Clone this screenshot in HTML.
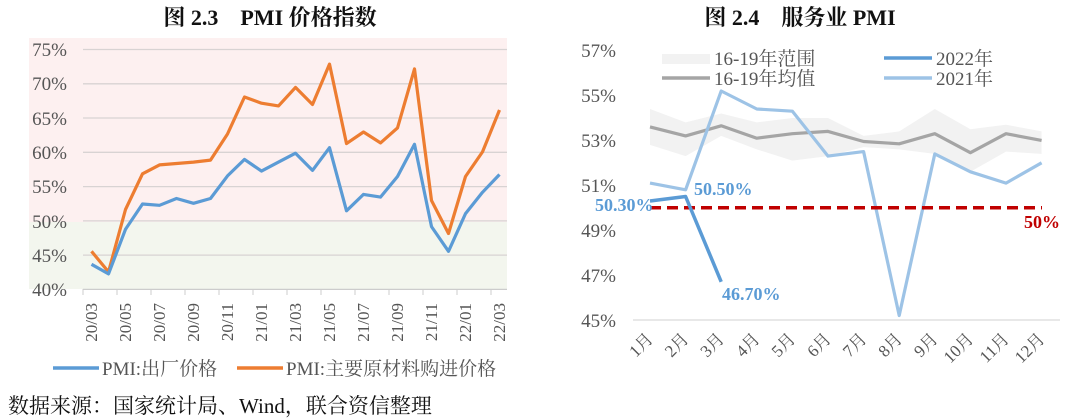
<!DOCTYPE html>
<html><head><meta charset="utf-8"><style>
html,body{margin:0;padding:0;background:#fff;}
svg{display:block;}
text{font-family:"Liberation Serif","Noto Serif CJK SC",serif;}
</style></head><body>
<svg width="1080" height="420" xmlns="http://www.w3.org/2000/svg">
<text x="270" y="25" text-anchor="middle" font-size="22" font-weight="bold" fill="#111">图 2.3　PMI 价格指数</text>
<text x="800" y="25" text-anchor="middle" font-size="22" font-weight="bold" fill="#111">图 2.4　服务业 PMI</text>

<rect x="29" y="38" width="478" height="184" fill="#fdf0f0"/>
<rect x="29" y="222" width="478" height="67" fill="#f3f6ee"/>
<g stroke="#d8d3d3" stroke-width="1.3">
<line x1="83" y1="49.5" x2="507" y2="49.5"/>
<line x1="83" y1="83.8" x2="507" y2="83.8"/>
<line x1="83" y1="118" x2="507" y2="118"/>
<line x1="83" y1="152.3" x2="507" y2="152.3"/>
<line x1="83" y1="186.6" x2="507" y2="186.6"/>
<line x1="83" y1="220.9" x2="507" y2="220.9"/>
<line x1="83" y1="255.1" x2="507" y2="255.1"/>
<line x1="83" y1="289.4" x2="507" y2="289.4" stroke="#ccc"/>
</g>
<g stroke="#ccc" stroke-width="1">
<line x1="83" y1="289" x2="83" y2="295"/><line x1="117" y1="289" x2="117" y2="295"/><line x1="151" y1="289" x2="151" y2="295"/><line x1="185" y1="289" x2="185" y2="295"/><line x1="219" y1="289" x2="219" y2="295"/><line x1="253" y1="289" x2="253" y2="295"/><line x1="287" y1="289" x2="287" y2="295"/><line x1="321" y1="289" x2="321" y2="295"/><line x1="355" y1="289" x2="355" y2="295"/><line x1="389" y1="289" x2="389" y2="295"/><line x1="423" y1="289" x2="423" y2="295"/><line x1="457" y1="289" x2="457" y2="295"/><line x1="491" y1="289" x2="491" y2="295"/>
</g>
<g font-size="19" fill="#555" text-anchor="end">
<text x="67" y="56">75%</text><text x="67" y="90">70%</text><text x="67" y="125">65%</text><text x="67" y="159">60%</text><text x="67" y="193">55%</text><text x="67" y="228">50%</text><text x="67" y="262">45%</text><text x="67" y="296">40%</text>
</g>
<g font-size="17" fill="#555" text-anchor="end">
<text transform="translate(97,303) rotate(-90)">20/03</text>
<text transform="translate(131,303) rotate(-90)">20/05</text>
<text transform="translate(165,303) rotate(-90)">20/07</text>
<text transform="translate(199,303) rotate(-90)">20/09</text>
<text transform="translate(233,303) rotate(-90)">20/11</text>
<text transform="translate(267,303) rotate(-90)">21/01</text>
<text transform="translate(301,303) rotate(-90)">21/03</text>
<text transform="translate(335,303) rotate(-90)">21/05</text>
<text transform="translate(369,303) rotate(-90)">21/07</text>
<text transform="translate(403,303) rotate(-90)">21/09</text>
<text transform="translate(437,303) rotate(-90)">21/11</text>
<text transform="translate(471,303) rotate(-90)">22/01</text>
<text transform="translate(505,303) rotate(-90)">22/03</text>
</g>
<polyline fill="none" stroke="#ed7d31" stroke-width="3.2" stroke-linejoin="round" points="91.5,251.3 108.5,271.9 125.5,209.5 142.5,173.8 159.5,164.9 176.5,163.5 193.5,162.1 210.5,160.1 227.5,134 244.5,97 261.5,103.2 278.5,105.9 295.5,87.4 312.5,104.5 329.5,64.1 346.5,143.6 363.5,132 380.5,142.9 397.5,127.9 414.5,68.9 431.5,200.5 448.5,233.5 465.5,176.5 482.5,151.9 499.5,110"/>
<polyline fill="none" stroke="#5b9bd5" stroke-width="3.2" stroke-linejoin="round" points="91.5,264.3 108.5,273.9 125.5,229.3 142.5,204 159.5,205.3 176.5,198.5 193.5,203.3 210.5,198.5 227.5,175.9 244.5,159.4 261.5,171.1 278.5,162.1 295.5,153.2 312.5,170.4 329.5,147.7 346.5,210.8 363.5,194.4 380.5,197.1 397.5,176.5 414.5,144.3 431.5,226.6 448.5,251.3 465.5,213.6 482.5,192.3 499.5,174.5"/>
<line x1="53" y1="368" x2="99" y2="368" stroke="#5b9bd5" stroke-width="3.5"/>
<text x="102" y="375" font-size="19" fill="#555">PMI:出厂价格</text>
<line x1="237" y1="368" x2="283" y2="368" stroke="#ed7d31" stroke-width="3.5"/>
<text x="286" y="375" font-size="19" fill="#555">PMI:主要原材料购进价格</text>
<text x="8" y="413" font-size="21" fill="#111">数据来源：国家统计局、Wind，联合资信整理</text>

<polygon fill="#f2f2f2" points="650,109 685.6,122.4 721.2,113.5 756.8,122.4 792.4,118 828,118 863.6,135.9 899.2,131.4 934.8,109 970.4,129.2 1006,124.7 1041.6,131.4 1041.6,153.9 1006,151.6 970.4,171.8 934.8,153.9 899.2,149.4 863.6,147.1 828,156.1 792.4,160.6 756.8,149.4 721.2,135.9 685.6,156.1 650,144.9"/>
<line x1="633" y1="320" x2="1060" y2="320" stroke="#d9d9d9" stroke-width="1.3"/>
<g font-size="19" fill="#555" text-anchor="end">
<text x="616" y="57">57%</text><text x="616" y="102">55%</text><text x="616" y="147">53%</text><text x="616" y="192">51%</text><text x="616" y="237">49%</text><text x="616" y="282">47%</text><text x="616" y="327">45%</text>
</g>
<g font-size="17" fill="#555" text-anchor="end">
<text transform="translate(654,340) rotate(-45)">1月</text>
<text transform="translate(689.6,340) rotate(-45)">2月</text>
<text transform="translate(725.2,340) rotate(-45)">3月</text>
<text transform="translate(760.8,340) rotate(-45)">4月</text>
<text transform="translate(796.4,340) rotate(-45)">5月</text>
<text transform="translate(832,340) rotate(-45)">6月</text>
<text transform="translate(867.6,340) rotate(-45)">7月</text>
<text transform="translate(903.2,340) rotate(-45)">8月</text>
<text transform="translate(938.8,340) rotate(-45)">9月</text>
<text transform="translate(974.4,340) rotate(-45)">10月</text>
<text transform="translate(1010,340) rotate(-45)">11月</text>
<text transform="translate(1045.6,340) rotate(-45)">12月</text>
</g>
<polyline fill="none" stroke="#a5a5a5" stroke-width="3.2" stroke-linejoin="round" points="650,126.9 685.6,135.9 721.2,125.8 756.8,138.2 792.4,133.7 828,131.4 863.6,141.5 899.2,143.8 934.8,133.7 970.4,152.7 1006,133.7 1041.6,140.4"/>
<polyline fill="none" stroke="#9dc3e6" stroke-width="3.2" stroke-linejoin="round" points="650,183.1 685.6,189.8 721.2,91 756.8,109 792.4,111.2 828,156.1 863.6,151.6 899.2,315.5 934.8,153.9 970.4,171.8 1006,183.1 1041.6,162.8"/>
<line x1="650" y1="207.8" x2="1042" y2="207.8" stroke="#c00000" stroke-width="3.5" stroke-dasharray="11,6"/>
<polyline fill="none" stroke="#5b9bd5" stroke-width="3.5" stroke-linejoin="round" points="650,201 685.6,196.5 721.2,281.8"/>
<g font-size="18" font-weight="bold" fill="#5b9bd5">
<text x="595" y="211">50.30%</text>
<text x="694" y="195">50.50%</text>
<text x="722" y="300">46.70%</text>
</g>
<text x="1024" y="228" font-size="18" font-weight="bold" fill="#c00000">50%</text>
<rect x="662" y="54" width="48" height="10" fill="#f2f2f2"/>
<text x="714" y="65" font-size="19" fill="#555">16-19年范围</text>
<line x1="662" y1="78" x2="710" y2="78" stroke="#a5a5a5" stroke-width="3.5"/>
<text x="714" y="85" font-size="19" fill="#555">16-19年均值</text>
<line x1="884" y1="58" x2="932" y2="58" stroke="#5b9bd5" stroke-width="3.5"/>
<text x="936" y="65" font-size="19" fill="#555">2022年</text>
<line x1="884" y1="78" x2="932" y2="78" stroke="#9dc3e6" stroke-width="3.5"/>
<text x="936" y="85" font-size="19" fill="#555">2021年</text>
</svg>
</body></html>
